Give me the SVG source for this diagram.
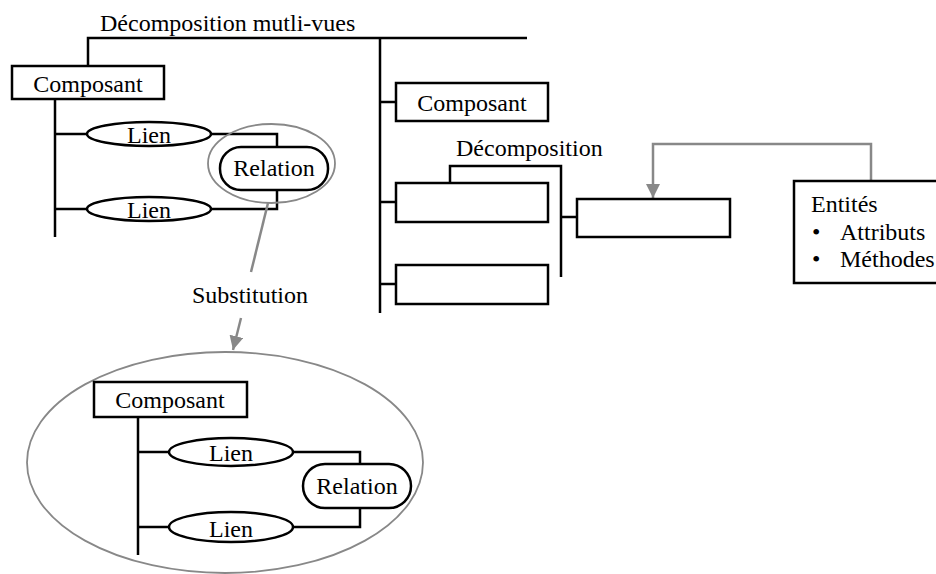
<svg xmlns="http://www.w3.org/2000/svg" width="936" height="574" viewBox="0 0 936 574">
<defs>
<style>
text{font-family:"Liberation Serif","Times New Roman",serif;font-size:24px;fill:#000}
.c{text-anchor:middle}
.box{fill:#fff;stroke:#000;stroke-width:2.5}
.ln{fill:none;stroke:#000;stroke-width:2.5}
.g{fill:none;stroke:#888;stroke-width:2.5}
.gl{fill:none;stroke:#888;stroke-width:1.8}
</style>
<marker id="ah" viewBox="0 0 10 10" refX="10" refY="5" markerWidth="5.6" markerHeight="5.6" orient="auto" markerUnits="strokeWidth">
<path d="M0,0 L10,5 L0,10 z" fill="#888"/>
</marker>
</defs>
<rect width="936" height="574" fill="#fff"/>
<g id="connectors">
<path class="ln" d="M88,66 V38 H527"/>
<path class="ln" d="M380,38 V313"/>
<path class="ln" d="M55,99 V237"/>
<path class="ln" d="M55,134 H87 M55,209 H87"/>
<path class="ln" d="M211,134 H277 V147 M211,209 H277 V190"/>
<path class="ln" d="M380,102 H396 M380,202 H396 M380,284 H396"/>
<path class="ln" d="M450,183 V166 H561 V277 M561,217 H577"/>
<path class="ln" d="M138,417 V555 M138,452 H170 M138,527 H170"/>
<path class="ln" d="M293,452 H360 V464 M293,527 H360 V508"/>
<path class="g" d="M871,181 V144 H653 V198" marker-end="url(#ah)"/>
<path class="g" d="M268,203 L251,272"/>
<path class="g" d="M241,318 L233,350" marker-end="url(#ah)"/>
</g>
<g id="title"><text x="100" y="31">Décomposition mutli-vues</text></g>
<g id="composant1"><rect class="box" x="12" y="66" width="152" height="33"/><text class="c" x="88" y="92">Composant</text></g>
<g id="lien1"><ellipse class="box" cx="149" cy="134" rx="62" ry="12"/><text class="c" x="149" y="143">Lien</text></g>
<g id="lien2"><ellipse class="box" cx="149" cy="209" rx="62" ry="12"/><text class="c" x="149" y="218">Lien</text></g>
<g id="relation1"><rect class="box" x="220" y="147" width="108" height="43" rx="21"/><text class="c" x="274" y="176">Relation</text></g>
<g id="focus"><ellipse class="gl" cx="271.5" cy="163.5" rx="63.5" ry="39.5"/></g>
<g id="substitution"><text x="192" y="303">Substitution</text></g>
<g id="composant2"><rect class="box" x="396" y="83" width="152" height="38"/><text class="c" x="472" y="111">Composant</text></g>
<g id="decomposition"><text x="456" y="156">Décomposition</text></g>
<g id="box1"><rect class="box" x="396" y="183" width="152" height="39"/></g>
<g id="box2"><rect class="box" x="396" y="265" width="152" height="39"/></g>
<g id="box3"><rect class="box" x="577" y="199" width="153" height="38"/></g>
<g id="entites"><rect class="box" x="794" y="181" width="160" height="102"/>
<text x="811" y="212">Entités</text>
<text x="812" y="240">•</text><text x="840" y="240">Attributs</text>
<text x="812" y="267">•</text><text x="840" y="267">Méthodes</text></g>
<g id="zoom-ellipse"><ellipse class="gl" cx="225" cy="462.5" rx="198" ry="110.5"/></g>
<g id="composant3"><rect class="box" x="94" y="382" width="153" height="35"/><text class="c" x="170" y="408">Composant</text></g>
<g id="lien3"><ellipse class="box" cx="231" cy="452" rx="62" ry="14"/><text class="c" x="231" y="461">Lien</text></g>
<g id="lien4"><ellipse class="box" cx="231" cy="527" rx="62" ry="15"/><text class="c" x="231" y="537">Lien</text></g>
<g id="relation2"><rect class="box" x="303" y="464" width="108" height="44" rx="22"/><text class="c" x="357" y="494">Relation</text></g>
</svg>
